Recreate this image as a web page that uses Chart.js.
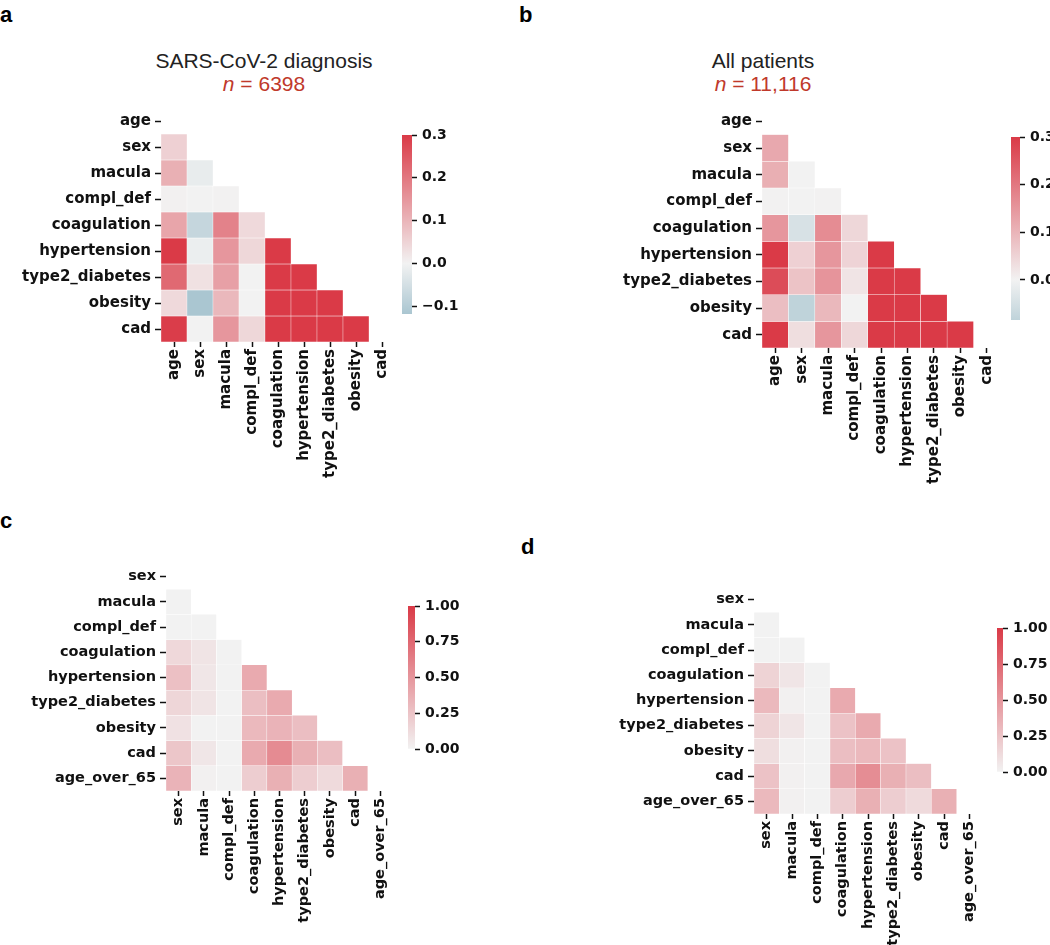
<!DOCTYPE html>
<html>
<head>
<meta charset="utf-8">
<script src="https://cdn.jsdelivr.net/npm/chart.js@4.4.0/dist/chart.umd.min.js"></script>
<style>
  body { margin: 0; background: #fff; }
  #fig { position: relative; width: 1050px; height: 945px; overflow: hidden; background: #fff;
         font-family: 'Liberation Sans', Arial, sans-serif; }
  #fig canvas { position: absolute; }
  .letter { position: absolute; font-weight: bold; font-size: 22px; line-height: 22px; color: #000; }
  .ttl { position: absolute; width: 300px; text-align: center; font-size: 21px; line-height: 24px; color: #222; }
  .ttl.n { color: #c0392b; }
</style>
</head>
<body>
<div id="fig">
  <div class="letter" style="left:0px;top:4px">a</div>
  <div class="letter" style="left:519px;top:4px">b</div>
  <div class="letter" style="left:0px;top:510px">c</div>
  <div class="letter" style="left:521px;top:536px">d</div>

  <div class="ttl" style="left:114px;top:49px">SARS-CoV-2 diagnosis</div>
  <div class="ttl n" style="left:114px;top:72px"><i>n</i> = 6398</div>
  <div class="ttl" style="left:613px;top:49px">All patients</div>
  <div class="ttl n" style="left:613px;top:72px"><i>n</i> = 11,116</div>

  <canvas id="hmA"></canvas><canvas id="cbA"></canvas>
  <canvas id="hmB"></canvas><canvas id="cbB"></canvas>
  <canvas id="hmC"></canvas><canvas id="cbC"></canvas>
  <canvas id="hmD"></canvas><canvas id="cbD"></canvas>
</div>

<script>
// variables (rows = columns, lower triangle shown)
const VARS_AB = ['age', 'sex', 'macula', 'compl_def', 'coagulation', 'hypertension', 'type2_diabetes', 'obesity', 'cad'];
const VARS_CD = ['sex', 'macula', 'compl_def', 'coagulation', 'hypertension', 'type2_diabetes', 'obesity', 'cad', 'age_over_65'];

// lower-triangle correlations, row i has i values (columns 0..i-1)
const CORR_A = [
  [],
  [0.055],
  [0.108, -0.017],
  [0.003, 0.0, 0.002],
  [0.126, -0.074, 0.183, 0.04],
  [0.33, -0.012, 0.15, 0.044, 0.42],
  [0.224, 0.028, 0.134, 0.0, 0.40, 0.45],
  [0.04, -0.118, 0.095, 0.0, 0.36, 0.40, 0.38],
  [0.295, 0.0, 0.15, 0.044, 0.40, 0.48, 0.44, 0.34]
];
const CORR_B = [
  [],
  [0.12],
  [0.11, 0.0],
  [0.002, 0.0, 0.002],
  [0.15, -0.045, 0.167, 0.044],
  [0.32, 0.055, 0.15, 0.05, 0.42],
  [0.27, 0.077, 0.153, 0.023, 0.40, 0.46],
  [0.085, -0.084, 0.095, 0.0, 0.36, 0.40, 0.38],
  [0.31, 0.033, 0.15, 0.044, 0.40, 0.48, 0.44, 0.34]
];
const CORR_C = [
  [],
  [0.0],
  [0.0, 0.0],
  [0.14, 0.076, 0.0],
  [0.27, 0.065, 0.0, 0.39],
  [0.15, 0.076, 0.0, 0.28, 0.39],
  [0.09, 0.0, 0.0, 0.31, 0.34, 0.28],
  [0.24, 0.065, 0.0, 0.39, 0.56, 0.36, 0.28],
  [0.34, 0.01, 0.0, 0.20, 0.36, 0.20, 0.13, 0.36]
];
const CORR_D = [
  [],
  [0.0],
  [0.0, 0.0],
  [0.17, 0.07, 0.0],
  [0.31, 0.01, 0.0, 0.39],
  [0.17, 0.07, 0.0, 0.26, 0.39],
  [0.11, 0.01, 0.0, 0.28, 0.31, 0.26],
  [0.26, 0.01, 0.0, 0.40, 0.55, 0.36, 0.28],
  [0.31, 0.01, 0.0, 0.20, 0.36, 0.20, 0.13, 0.36]
];

// colour-bar ranges and ticks
const RANGE_A = [-0.118, 0.3];
const RANGE_B = [-0.084, 0.3];
const RANGE_CD = [0, 1];
const TICKS_A = [-0.1, 0.0, 0.1, 0.2, 0.3];
const TICKS_B = [0.0, 0.1, 0.2, 0.3];
const TICKS_CD = [0, 0.25, 0.5, 0.75, 1];

// diverging palette, light centre (seaborn 220 -> 10)
const GRAY = [242, 242, 242], RED = [218, 58, 71], BLUE = [60, 130, 158];

function cmap(v, span) {
  let t = Math.max(-1, Math.min(1, v / span));
  const end = t < 0 ? BLUE : RED;
  t = Math.abs(t);
  const c = GRAY.map((g, k) => Math.round(g + (end[k] - g) * t));
  return `rgb(${c.join(',')})`;
}

Chart.defaults.font.family = "'DejaVu Sans', sans-serif";
Chart.defaults.color = '#111';
Chart.defaults.animation = false;

// size a canvas so that its chart area lands on area = [x0, y0, x1, y1]
function place(id, box) {
  const cv = document.getElementById(id);
  cv.width = box.w; cv.height = box.h;
  cv.style.left = box.l + 'px'; cv.style.top = box.t + 'px';
  cv.style.width = box.w + 'px'; cv.style.height = box.h + 'px';
  return cv;
}

function heatmap(id, vars, corr, range, box, area, fontSize) {
  const cv = place(id, box);
  const span = Math.max(range[1], -range[0]);
  const tickFont = { size: fontSize, weight: 'bold' };
  const datasets = corr.map((row, i) => ({
    data: vars.map((_, j) => j < i ? [i, i + 1] : null),
    backgroundColor: vars.map((_, j) => j < i ? cmap(row[j], span) : 'rgba(0,0,0,0)'),
    borderColor: 'rgba(255,255,255,0.9)',
    borderWidth: 0.5,
    borderSkipped: false,
    grouped: false,
    barPercentage: 1,
    categoryPercentage: 1
  }));
  return new Chart(cv, {
    type: 'bar',
    data: { labels: vars, datasets },
    options: {
      responsive: false,
      layout: { padding: { top: area[1] - box.t, right: box.l + box.w - area[2], left: 0, bottom: 0 } },
      plugins: { legend: { display: false }, tooltip: { enabled: false } },
      scales: {
        x: {
          border: { display: false },
          grid: { offset: false, drawOnChartArea: false, drawTicks: true, tickLength: 5, tickColor: '#111', tickWidth: 1.5 },
          ticks: { autoSkip: false, minRotation: 90, maxRotation: 90, padding: 2, font: tickFont, color: '#111' },
          afterFit: (s) => { s.height = box.t + box.h - area[3]; }
        },
        y: {
          min: 0, max: vars.length, reverse: true,
          border: { display: false },
          grid: { drawOnChartArea: false, drawTicks: true, tickLength: 6, tickColor: '#111', tickWidth: 1.5 },
          ticks: { autoSkip: false, padding: 4, font: tickFont, color: '#111',
                   callback: (v, i) => vars[i] },
          afterBuildTicks: (s) => { s.ticks = vars.map((_, i) => ({ value: i + 0.5 })); },
          afterFit: (s) => { s.width = area[0] - box.l; }
        }
      }
    }
  });
}

function colorbar(id, range, ticks, digits, box, area) {
  const cv = place(id, box);
  const [vmin, vmax] = range;
  const span = Math.max(vmax, -vmin);
  return new Chart(cv, {
    type: 'bar',
    data: {
      labels: [''],
      datasets: [{
        data: [[vmin, vmax]],
        borderWidth: 0,
        barPercentage: 1,
        categoryPercentage: 1,
        backgroundColor: (ctx) => {
          const chart = ctx.chart;
          if (!chart.chartArea) return GRAY;
          const y = chart.scales.y;
          const g = chart.ctx.createLinearGradient(0, y.getPixelForValue(vmin), 0, y.getPixelForValue(vmax));
          g.addColorStop(0, cmap(vmin, span));
          if (vmin < 0) g.addColorStop(-vmin / (vmax - vmin), cmap(0, span));
          g.addColorStop(1, cmap(vmax, span));
          return g;
        }
      }]
    },
    options: {
      responsive: false,
      layout: { padding: { top: area[1] - box.t, bottom: box.t + box.h - area[3], left: area[0] - box.l, right: 0 } },
      plugins: { legend: { display: false }, tooltip: { enabled: false } },
      scales: {
        x: { display: false },
        y: {
          position: 'right', min: vmin, max: vmax,
          border: { display: false },
          grid: { drawOnChartArea: false, drawTicks: true, tickLength: 5, tickColor: '#111', tickWidth: 1.5 },
          ticks: { padding: 5, font: { size: 14, weight: 'bold' }, color: '#111',
                   callback: (v) => (Math.abs(v) < 1e-9 ? 0 : v).toFixed(digits).replace('-', '\u2212') },
          afterBuildTicks: (s) => { s.ticks = ticks.map(v => ({ value: v })); },
          afterFit: (s) => { s.width = box.l + box.w - area[2]; }
        }
      }
    }
  });
}

heatmap('hmA', VARS_AB, CORR_A, RANGE_A, { l: 10, t: 94, w: 400, h: 386 }, [161, 108, 395, 342], 15);
heatmap('hmB', VARS_AB, CORR_B, RANGE_B, { l: 610, t: 94, w: 405, h: 396 }, [762, 108, 1000, 348], 15);
heatmap('hmC', VARS_CD, CORR_C, RANGE_CD, { l: 10, t: 550, w: 398, h: 380 }, [166, 564, 393, 791], 14.5);
heatmap('hmD', VARS_CD, CORR_D, RANGE_CD, { l: 600, t: 573, w: 397, h: 372 }, [754, 587, 982, 814], 14.5);

colorbar('cbA', RANGE_A, TICKS_A, 1, { l: 395, t: 120, w: 80, h: 210 }, [402, 135, 412, 314]);
colorbar('cbB', RANGE_B, TICKS_B, 1, { l: 1000, t: 122, w: 50, h: 213 }, [1011, 137, 1020, 320]);
colorbar('cbC', RANGE_CD, TICKS_CD, 2, { l: 400, t: 591, w: 70, h: 173 }, [408, 606, 415, 749]);
colorbar('cbD', RANGE_CD, TICKS_CD, 2, { l: 990, t: 613, w: 60, h: 174 }, [997, 628, 1003, 772]);
</script>
</body>
</html>
